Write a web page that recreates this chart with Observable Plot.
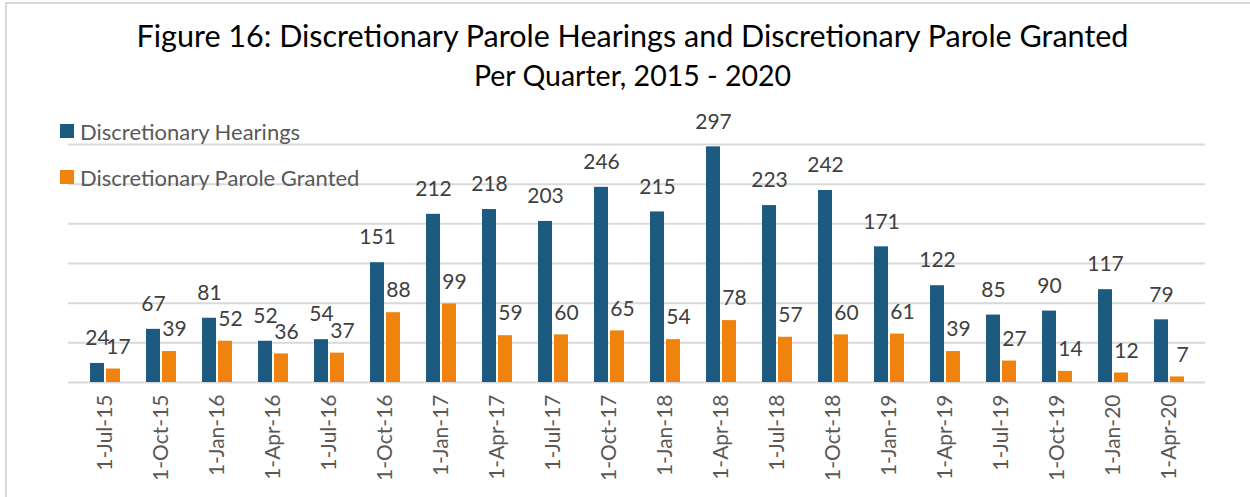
<!DOCTYPE html>
<html>
<head>
<meta charset="utf-8">
<script src="https://cdn.jsdelivr.net/npm/d3@7"></script>
<script src="https://cdn.jsdelivr.net/npm/@observablehq/plot@0.6"></script>
<style>
  html, body { margin: 0; padding: 0; background: #fff; }
  #wrap { position: relative; width: 1250px; height: 497px; overflow: hidden; font-family: Lato, "Open Sans", sans-serif; }
  #frame { position: absolute; left: 5px; top: 2px; width: 1250px; height: 500px; border-left: 2px solid #d9d9d9; border-top: 2px solid #d9d9d9; box-sizing: border-box; pointer-events: none; }
  #title { position: absolute; left: 0; width: 1265px; top: 17px; text-align: center; font-size: 30.5px; color: #000; line-height: 36px; }
  #subtitle { position: absolute; left: 0; width: 1265px; top: 59px; text-align: center; font-size: 28.5px; color: #000; line-height: 32px; }
  #legend { position: absolute; left: 60px; top: 117px; font-size: 22px; color: #595959; }
  .li { display: flex; align-items: center; height: 28px; margin-bottom: 18px; }
  .sw { width: 14px; height: 14px; margin-right: 6px; }
  #chart { position: absolute; left: 0; top: 0; }
</style>
</head>
<body>
<div id="wrap">
  <div id="chart"></div>
  <div id="frame"></div>
  <div id="title">Figure 16: Discretionary Parole Hearings and Discretionary Parole Granted</div>
  <div id="subtitle">Per Quarter, 2015 - 2020</div>
  <div id="legend">
    <div class="li"><div class="sw" style="background:#1d5a80"></div>Discretionary Hearings</div>
    <div class="li"><div class="sw" style="background:#f0820e"></div>Discretionary Parole Granted</div>
  </div>
</div>
<script>
const quarters = ["1-Jul-15","1-Oct-15","1-Jan-16","1-Apr-16","1-Jul-16","1-Oct-16","1-Jan-17","1-Apr-17","1-Jul-17","1-Oct-17","1-Jan-18","1-Apr-18","1-Jul-18","1-Oct-18","1-Jan-19","1-Apr-19","1-Jul-19","1-Oct-19","1-Jan-20","1-Apr-20"];
const hearings = [24,67,81,52,54,151,212,218,203,246,215,297,223,242,171,122,85,90,117,79];
const granted  = [17,39,52,36,37,88,99,59,60,65,54,78,57,60,61,39,27,14,12,7];
const seriesNames = ["Discretionary Hearings","Discretionary Parole Granted"];
const gridTicks = [0,50,100,150,200,250,300];

const hearRows = quarters.map((q, i) => ({quarter: q, series: seriesNames[0], value: hearings[i]}));
const grantRows = quarters.map((q, i) => ({quarter: q, series: seriesNames[1], value: granted[i]}));

const chart = Plot.plot({
  width: 1250,
  height: 497,
  marginTop: 144,
  marginBottom: 115,
  marginLeft: 68,
  marginRight: 45,
  style: {fontFamily: "Lato, 'Open Sans', sans-serif", background: "transparent"},
  x: {domain: quarters, paddingInner: 0.47, paddingOuter: 0.235, label: null},
  y: {domain: [0, 300], axis: null},
  color: {domain: seriesNames, range: ["#1d5a80", "#f0820e"]},
  marks: [
    Plot.ruleY(gridTicks, {stroke: "#d9d9d9", strokeWidth: 2}),
    Plot.barY(hearRows, {x: "quarter", y: "value", fill: "series", insetRight: 16}),
    Plot.barY(grantRows, {x: "quarter", y: "value", fill: "series", insetLeft: 16}),
    Plot.text(hearRows, {
      x: "quarter", y: "value", text: d => String(d.value),
      dx: -8, dy: -25, fontSize: 21, fill: "#404040"
    }),
    Plot.text(grantRows, {
      x: "quarter", y: "value", text: d => String(d.value),
      dx: 13, dy: -22, fontSize: 21, fill: "#404040"
    }),
    Plot.axisX({
      anchor: "bottom", tickRotate: -90, tickSize: 0, tickPadding: 12,
      fontSize: 21, color: "#595959", label: null
    })
  ]
});
document.getElementById("chart").appendChild(chart);
</script>
</body>
</html>
